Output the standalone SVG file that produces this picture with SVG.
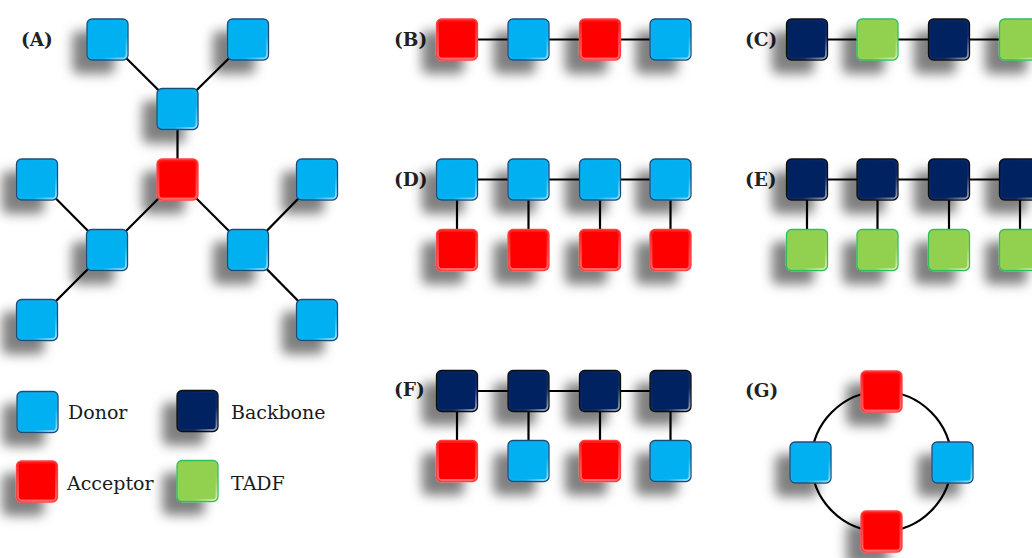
<svg xmlns="http://www.w3.org/2000/svg" width="1032" height="558" viewBox="0 0 1032 558">
  <defs>
    <filter id="shadow" x="-100%" y="-100%" width="300%" height="300%">
      <feDropShadow dx="-14" dy="13" stdDeviation="6" flood-color="#000" flood-opacity="0.5"/>
    </filter>
    <linearGradient id="gloss" x1="0" y1="0" x2="1" y2="1">
      <stop offset="0" stop-color="#fff" stop-opacity="0"/>
      <stop offset="0.7" stop-color="#fff" stop-opacity="0.05"/>
      <stop offset="1" stop-color="#fff" stop-opacity="0.6"/>
    </linearGradient>
    <linearGradient id="glossRed" x1="0" y1="0" x2="0" y2="1">
      <stop offset="0" stop-color="#fff" stop-opacity="0.1"/>
      <stop offset="1" stop-color="#fff" stop-opacity="0.4"/>
    </linearGradient>
  </defs>
  <style>
    .body { filter: url(#shadow); stroke-width: 1.3; }
    .gloss { fill: none; stroke: url(#gloss); stroke-width: 1.8; }
    .donor .body { fill: #00B0F0; stroke: #1F4E79; }
    .acceptor .body { fill: #FF0000; stroke: #FF4040; }
    .acceptor .gloss { stroke: url(#glossRed); }
    .backbone .body { fill: #002060; stroke: #101010; }
    .tadf .body { fill: #92D050; stroke: #2EC05A; }
    .link { stroke: #000; stroke-width: 2.2; fill: none; }
    .panel { font-family: "DejaVu Serif", "Liberation Serif", serif; font-weight: bold; font-size: 18.5px; fill: #222; }
    .legend { font-family: "DejaVu Serif", "Liberation Serif", serif; font-size: 19px; fill: #1a1a1a; }
  </style>
  <rect width="1032" height="558" fill="#fff"/>

  <!-- connectors -->
  <g id="connectors" class="link">
    <!-- (A) branched -->
    <line x1="107.5" y1="39.5" x2="177.5" y2="109"/>
    <line x1="248" y1="39.5" x2="177.5" y2="109"/>
    <line x1="177.5" y1="109" x2="177.5" y2="179.5"/>
    <line x1="177.5" y1="179.5" x2="107" y2="250"/>
    <line x1="177.5" y1="179.5" x2="248" y2="250"/>
    <line x1="107" y1="250" x2="37" y2="179.5"/>
    <line x1="107" y1="250" x2="37" y2="320"/>
    <line x1="248" y1="250" x2="317" y2="179.5"/>
    <line x1="248" y1="250" x2="317" y2="320"/>
    <!-- (B) -->
    <line x1="457" y1="39.5" x2="670.5" y2="39.5"/>
    <!-- (C) -->
    <line x1="807" y1="39.5" x2="1032" y2="39.5"/>
    <!-- (D) -->
    <line x1="457" y1="179.5" x2="670.5" y2="179.5"/>
    <line x1="457" y1="179.5" x2="457" y2="250"/>
    <line x1="528.5" y1="179.5" x2="528.5" y2="250"/>
    <line x1="600" y1="179.5" x2="600" y2="250"/>
    <line x1="670.5" y1="179.5" x2="670.5" y2="250"/>
    <!-- (E) -->
    <line x1="807" y1="179.5" x2="1032" y2="179.5"/>
    <line x1="807" y1="179.5" x2="807" y2="250"/>
    <line x1="877.5" y1="179.5" x2="877.5" y2="250"/>
    <line x1="949" y1="179.5" x2="949" y2="250"/>
    <line x1="1020" y1="179.5" x2="1020" y2="250"/>
    <!-- (F) -->
    <line x1="457" y1="391" x2="670.5" y2="391"/>
    <line x1="457" y1="391" x2="457" y2="461"/>
    <line x1="528.5" y1="391" x2="528.5" y2="461"/>
    <line x1="600" y1="391" x2="600" y2="461"/>
    <line x1="670.5" y1="391" x2="670.5" y2="461"/>
    <!-- (G) ring -->
    <circle cx="881.5" cy="461.5" r="70"/>
  </g>

  <!-- panel labels -->
  <g id="labels" class="panel">
    <text x="21" y="46">(A)</text>
    <text x="394" y="46">(B)</text>
    <text x="745" y="46">(C)</text>
    <text x="394" y="186">(D)</text>
    <text x="745" y="186">(E)</text>
    <text x="394" y="396">(F)</text>
    <text x="745" y="397">(G)</text>
  </g>

  <!-- (A) branched architecture -->
  <g id="a-d1" class="donor" transform="translate(87,19)"><rect class="body" width="41" height="41" rx="5"/><rect class="gloss" x="1.5" y="1.5" width="38" height="38" rx="4"/></g>
  <g id="a-d2" class="donor" transform="translate(227.5,19)"><rect class="body" width="41" height="41" rx="5"/><rect class="gloss" x="1.5" y="1.5" width="38" height="38" rx="4"/></g>
  <g id="a-d3" class="donor" transform="translate(157,88.5)"><rect class="body" width="41" height="41" rx="5"/><rect class="gloss" x="1.5" y="1.5" width="38" height="38" rx="4"/></g>
  <g id="a-acc" class="acceptor" transform="translate(157,159)"><rect class="body" width="41" height="41" rx="5"/><rect class="gloss" x="1.5" y="1.5" width="38" height="38" rx="4"/></g>
  <g id="a-d4" class="donor" transform="translate(86.5,229.5)"><rect class="body" width="41" height="41" rx="5"/><rect class="gloss" x="1.5" y="1.5" width="38" height="38" rx="4"/></g>
  <g id="a-d5" class="donor" transform="translate(227.5,229.5)"><rect class="body" width="41" height="41" rx="5"/><rect class="gloss" x="1.5" y="1.5" width="38" height="38" rx="4"/></g>
  <g id="a-d6" class="donor" transform="translate(16.5,159)"><rect class="body" width="41" height="41" rx="5"/><rect class="gloss" x="1.5" y="1.5" width="38" height="38" rx="4"/></g>
  <g id="a-d7" class="donor" transform="translate(16.5,299.5)"><rect class="body" width="41" height="41" rx="5"/><rect class="gloss" x="1.5" y="1.5" width="38" height="38" rx="4"/></g>
  <g id="a-d8" class="donor" transform="translate(296.5,159)"><rect class="body" width="41" height="41" rx="5"/><rect class="gloss" x="1.5" y="1.5" width="38" height="38" rx="4"/></g>
  <g id="a-d9" class="donor" transform="translate(296.5,299.5)"><rect class="body" width="41" height="41" rx="5"/><rect class="gloss" x="1.5" y="1.5" width="38" height="38" rx="4"/></g>

  <!-- (B) alternating D-A chain -->
  <g id="b1" class="acceptor" transform="translate(436.5,19)"><rect class="body" width="41" height="41" rx="5"/><rect class="gloss" x="1.5" y="1.5" width="38" height="38" rx="4"/></g>
  <g id="b2" class="donor" transform="translate(508,19)"><rect class="body" width="41" height="41" rx="5"/><rect class="gloss" x="1.5" y="1.5" width="38" height="38" rx="4"/></g>
  <g id="b3" class="acceptor" transform="translate(579.5,19)"><rect class="body" width="41" height="41" rx="5"/><rect class="gloss" x="1.5" y="1.5" width="38" height="38" rx="4"/></g>
  <g id="b4" class="donor" transform="translate(650,19)"><rect class="body" width="41" height="41" rx="5"/><rect class="gloss" x="1.5" y="1.5" width="38" height="38" rx="4"/></g>

  <!-- (C) backbone / TADF chain -->
  <g id="c1" class="backbone" transform="translate(786.5,19)"><rect class="body" width="41" height="41" rx="5"/><rect class="gloss" x="1.5" y="1.5" width="38" height="38" rx="4"/></g>
  <g id="c2" class="tadf" transform="translate(857,19)"><rect class="body" width="41" height="41" rx="5"/><rect class="gloss" x="1.5" y="1.5" width="38" height="38" rx="4"/></g>
  <g id="c3" class="backbone" transform="translate(928.5,19)"><rect class="body" width="41" height="41" rx="5"/><rect class="gloss" x="1.5" y="1.5" width="38" height="38" rx="4"/></g>
  <g id="c4" class="tadf" transform="translate(999.5,19)"><rect class="body" width="41" height="41" rx="5"/><rect class="gloss" x="1.5" y="1.5" width="38" height="38" rx="4"/></g>

  <!-- (D) donor backbone with acceptor pendants -->
  <g id="d1" class="donor" transform="translate(436.5,159)"><rect class="body" width="41" height="41" rx="5"/><rect class="gloss" x="1.5" y="1.5" width="38" height="38" rx="4"/></g>
  <g id="d2" class="donor" transform="translate(508,159)"><rect class="body" width="41" height="41" rx="5"/><rect class="gloss" x="1.5" y="1.5" width="38" height="38" rx="4"/></g>
  <g id="d3" class="donor" transform="translate(579.5,159)"><rect class="body" width="41" height="41" rx="5"/><rect class="gloss" x="1.5" y="1.5" width="38" height="38" rx="4"/></g>
  <g id="d4" class="donor" transform="translate(650,159)"><rect class="body" width="41" height="41" rx="5"/><rect class="gloss" x="1.5" y="1.5" width="38" height="38" rx="4"/></g>
  <g id="d5" class="acceptor" transform="translate(436.5,229.5)"><rect class="body" width="41" height="41" rx="5"/><rect class="gloss" x="1.5" y="1.5" width="38" height="38" rx="4"/></g>
  <g id="d6" class="acceptor" transform="translate(508,229.5)"><rect class="body" width="41" height="41" rx="5"/><rect class="gloss" x="1.5" y="1.5" width="38" height="38" rx="4"/></g>
  <g id="d7" class="acceptor" transform="translate(579.5,229.5)"><rect class="body" width="41" height="41" rx="5"/><rect class="gloss" x="1.5" y="1.5" width="38" height="38" rx="4"/></g>
  <g id="d8" class="acceptor" transform="translate(650,229.5)"><rect class="body" width="41" height="41" rx="5"/><rect class="gloss" x="1.5" y="1.5" width="38" height="38" rx="4"/></g>

  <!-- (E) backbone with TADF pendants -->
  <g id="e1" class="backbone" transform="translate(786.5,159)"><rect class="body" width="41" height="41" rx="5"/><rect class="gloss" x="1.5" y="1.5" width="38" height="38" rx="4"/></g>
  <g id="e2" class="backbone" transform="translate(857,159)"><rect class="body" width="41" height="41" rx="5"/><rect class="gloss" x="1.5" y="1.5" width="38" height="38" rx="4"/></g>
  <g id="e3" class="backbone" transform="translate(928.5,159)"><rect class="body" width="41" height="41" rx="5"/><rect class="gloss" x="1.5" y="1.5" width="38" height="38" rx="4"/></g>
  <g id="e4" class="backbone" transform="translate(999.5,159)"><rect class="body" width="41" height="41" rx="5"/><rect class="gloss" x="1.5" y="1.5" width="38" height="38" rx="4"/></g>
  <g id="e5" class="tadf" transform="translate(786.5,229.5)"><rect class="body" width="41" height="41" rx="5"/><rect class="gloss" x="1.5" y="1.5" width="38" height="38" rx="4"/></g>
  <g id="e6" class="tadf" transform="translate(857,229.5)"><rect class="body" width="41" height="41" rx="5"/><rect class="gloss" x="1.5" y="1.5" width="38" height="38" rx="4"/></g>
  <g id="e7" class="tadf" transform="translate(928.5,229.5)"><rect class="body" width="41" height="41" rx="5"/><rect class="gloss" x="1.5" y="1.5" width="38" height="38" rx="4"/></g>
  <g id="e8" class="tadf" transform="translate(999.5,229.5)"><rect class="body" width="41" height="41" rx="5"/><rect class="gloss" x="1.5" y="1.5" width="38" height="38" rx="4"/></g>

  <!-- (F) backbone with alternating A / D pendants -->
  <g id="f1" class="backbone" transform="translate(436.5,370.5)"><rect class="body" width="41" height="41" rx="5"/><rect class="gloss" x="1.5" y="1.5" width="38" height="38" rx="4"/></g>
  <g id="f2" class="backbone" transform="translate(508,370.5)"><rect class="body" width="41" height="41" rx="5"/><rect class="gloss" x="1.5" y="1.5" width="38" height="38" rx="4"/></g>
  <g id="f3" class="backbone" transform="translate(579.5,370.5)"><rect class="body" width="41" height="41" rx="5"/><rect class="gloss" x="1.5" y="1.5" width="38" height="38" rx="4"/></g>
  <g id="f4" class="backbone" transform="translate(650,370.5)"><rect class="body" width="41" height="41" rx="5"/><rect class="gloss" x="1.5" y="1.5" width="38" height="38" rx="4"/></g>
  <g id="f5" class="acceptor" transform="translate(436.5,440.5)"><rect class="body" width="41" height="41" rx="5"/><rect class="gloss" x="1.5" y="1.5" width="38" height="38" rx="4"/></g>
  <g id="f6" class="donor" transform="translate(508,440.5)"><rect class="body" width="41" height="41" rx="5"/><rect class="gloss" x="1.5" y="1.5" width="38" height="38" rx="4"/></g>
  <g id="f7" class="acceptor" transform="translate(579.5,440.5)"><rect class="body" width="41" height="41" rx="5"/><rect class="gloss" x="1.5" y="1.5" width="38" height="38" rx="4"/></g>
  <g id="f8" class="donor" transform="translate(650,440.5)"><rect class="body" width="41" height="41" rx="5"/><rect class="gloss" x="1.5" y="1.5" width="38" height="38" rx="4"/></g>

  <!-- (G) ring -->
  <g id="g1" class="acceptor" transform="translate(861,371)"><rect class="body" width="41" height="41" rx="5"/><rect class="gloss" x="1.5" y="1.5" width="38" height="38" rx="4"/></g>
  <g id="g2" class="donor" transform="translate(790,442)"><rect class="body" width="41" height="41" rx="5"/><rect class="gloss" x="1.5" y="1.5" width="38" height="38" rx="4"/></g>
  <g id="g3" class="donor" transform="translate(932,442)"><rect class="body" width="41" height="41" rx="5"/><rect class="gloss" x="1.5" y="1.5" width="38" height="38" rx="4"/></g>
  <g id="g4" class="acceptor" transform="translate(861,511)"><rect class="body" width="41" height="41" rx="5"/><rect class="gloss" x="1.5" y="1.5" width="38" height="38" rx="4"/></g>

  <!-- legend -->
  <g id="legend-donor" class="donor">
    <g transform="translate(17,391.5)"><rect class="body" width="41" height="41" rx="5"/><rect class="gloss" x="1.5" y="1.5" width="38" height="38" rx="4"/></g>
    <text class="legend" x="68" y="419">Donor</text>
  </g>
  <g id="legend-backbone" class="backbone">
    <g transform="translate(177,390.5)"><rect class="body" width="41" height="41" rx="5"/><rect class="gloss" x="1.5" y="1.5" width="38" height="38" rx="4"/></g>
    <text class="legend" x="231" y="419">Backbone</text>
  </g>
  <g id="legend-acceptor" class="acceptor">
    <g transform="translate(16.5,461)"><rect class="body" width="41" height="41" rx="5"/><rect class="gloss" x="1.5" y="1.5" width="38" height="38" rx="4"/></g>
    <text class="legend" x="67" y="490">Acceptor</text>
  </g>
  <g id="legend-tadf" class="tadf">
    <g transform="translate(177,460.5)"><rect class="body" width="41" height="41" rx="5"/><rect class="gloss" x="1.5" y="1.5" width="38" height="38" rx="4"/></g>
    <text class="legend" x="231" y="490">TADF</text>
  </g>
</svg>
